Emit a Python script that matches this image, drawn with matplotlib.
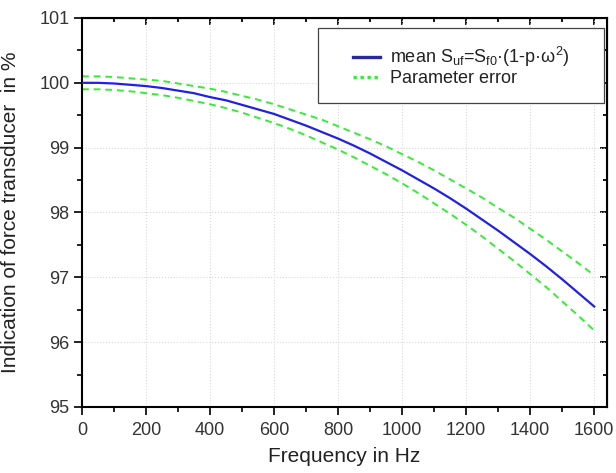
import matplotlib
matplotlib.use('Agg')
from matplotlib import pyplot as plt
from matplotlib.lines import Line2D
from matplotlib.patches import Rectangle
from matplotlib.ticker import MultipleLocator

plt.rcParams['font.family'] = ['Liberation Sans', 'DejaVu Sans']

# Frequency grid (Hz) and read-off values (percent)
freq = [0, 50, 100, 150, 200, 250, 300, 350, 400, 450, 500, 550, 600, 650, 700, 750, 800,
        850, 900, 950, 1000, 1050, 1100, 1150, 1200, 1250, 1300, 1350, 1400, 1450, 1500,
        1550, 1600]
mean_vals = [100.00, 100.00, 99.99, 99.97, 99.95, 99.92, 99.88, 99.84, 99.78, 99.73, 99.66,
             99.59, 99.52, 99.43, 99.34, 99.24, 99.14, 99.03, 98.91, 98.78, 98.65, 98.51,
             98.37, 98.22, 98.06, 97.89, 97.72, 97.54, 97.36, 97.17, 96.97, 96.76, 96.55]
upper_vals = [100.10, 100.10, 100.09, 100.07, 100.05, 100.03, 99.99, 99.95, 99.91, 99.86,
              99.80, 99.74, 99.67, 99.59, 99.51, 99.43, 99.33, 99.23, 99.13, 99.02, 98.90,
              98.78, 98.65, 98.51, 98.37, 98.23, 98.07, 97.92, 97.75, 97.58, 97.40, 97.22,
              97.03]
lower_vals = [99.90, 99.90, 99.89, 99.87, 99.84, 99.81, 99.77, 99.72, 99.67, 99.61, 99.54,
              99.46, 99.38, 99.29, 99.19, 99.08, 98.97, 98.85, 98.72, 98.59, 98.45, 98.30,
              98.14, 97.98, 97.81, 97.63, 97.44, 97.25, 97.05, 96.85, 96.63, 96.41, 96.18]

blue = '#2020e8'
green = '#33ee33'
tick_col = '#333333'

W, H = 616, 473
fig = plt.figure(figsize=(W / 100, H / 100), dpi=100)
ax = fig.add_axes([82 / W, 1 - 407 / H, (607 - 82) / W, (407 - 18) / H])

ax.plot(freq, mean_vals, color=blue, linewidth=1.6, zorder=3)
ax.plot(freq, upper_vals, color=green, linewidth=1.4, linestyle=(0, (3.5, 2.5)), zorder=2)
ax.plot(freq, lower_vals, color=green, linewidth=1.4, linestyle=(0, (3.5, 2.5)), zorder=2)

ax.set_xlim(0, 1640)
ax.set_ylim(95, 101)
ax.xaxis.set_major_locator(MultipleLocator(200))
ax.xaxis.set_minor_locator(MultipleLocator(100))
ax.yaxis.set_major_locator(MultipleLocator(1))
ax.yaxis.set_minor_locator(MultipleLocator(0.5))

ax.grid(True, which='major', color='#d8d8d8', linestyle=':', linewidth=0.8)
ax.tick_params(which='both', direction='out', labelsize=13, width=1.3,
               colors='#111111', labelcolor=tick_col)
ax.tick_params(which='major', length=5.5)
ax.tick_params(which='minor', length=3.5)
ax.tick_params(axis='x', pad=5)
for s in ax.spines.values():
    s.set_linewidth(1.5)

# mirrored inward ticks on top and right
top = ax.secondary_xaxis('top')
top.xaxis.set_major_locator(MultipleLocator(200))
top.xaxis.set_minor_locator(MultipleLocator(100))
top.tick_params(which='both', direction='in', labeltop=False, width=1.3)
top.tick_params(which='major', length=5)
top.tick_params(which='minor', length=3)
right = ax.secondary_yaxis('right')
right.yaxis.set_major_locator(MultipleLocator(1))
right.yaxis.set_minor_locator(MultipleLocator(0.5))
right.tick_params(which='both', direction='in', labelright=False, width=1.3)
right.tick_params(which='major', length=5)
right.tick_params(which='minor', length=3)

ax.set_xlabel('Frequency in Hz', fontsize=15, color='#222222', labelpad=6)
ax.set_ylabel('Indication of force transducer  in %', fontsize=15, color='#222222')
ax.yaxis.set_label_coords((20 - 82) / (607 - 82), 0.5)

# legend box drawn as a frame, entries placed inside it
fig.add_artist(Rectangle((318 / W, 1 - 103 / H), 286 / W, 75 / H, transform=fig.transFigure,
                         fill=True, facecolor='white', edgecolor='#444444', linewidth=0.9,
                         zorder=4))
handles = [
    Line2D([], [], color='#2a2aa0', linewidth=2.4),
    Line2D([], [], color=green, linewidth=2.4, linestyle=(0, (1, 1.1))),
]
labels = ['mean S$_{\\mathregular{uf}}$=S$_{\\mathregular{f0}}$\u00b7(1-p\u00b7\u03c9$^{\\mathregular{2}}$)',
          'Parameter error']
leg = fig.legend(handles, labels, loc='center left', bbox_to_anchor=(353 / W, 1 - 66 / H),
                 fontsize=13, frameon=False, borderpad=0, borderaxespad=0,
                 handlelength=1.5, handletextpad=0.55, labelspacing=0.05)
leg.set_zorder(5)
for t in leg.get_texts():
    t.set_color('#222222')

fig.savefig('out.png', dpi=100)
